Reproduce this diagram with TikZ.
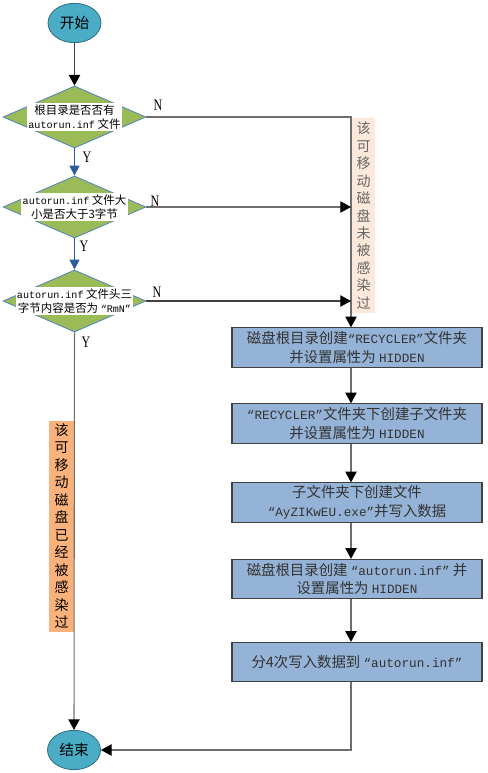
\documentclass[tikz,border=0pt]{standalone}
\usepackage{fontspec}
\usepackage{graphicx}
\setmainfont{Liberation Serif}
\newfontfamily\cjk{Noto Sans CJK SC}
\newfontfamily\mono[Scale=0.88]{Liberation Mono}
\newcommand\mt[1]{{\mono #1}}
\usetikzlibrary{shapes.geometric,arrows.meta}
\definecolor{ellfill}{HTML}{4BACC6}
\definecolor{ellline}{HTML}{2E6E80}
\definecolor{diafill}{HTML}{9BBB59}
\definecolor{dialine}{HTML}{4F81BD}
\definecolor{boxfill}{HTML}{95B3D7}
\definecolor{boxline}{HTML}{404040}
\definecolor{boxtext}{HTML}{333333}
\definecolor{peach}{HTML}{FDE9DB}
\definecolor{peachtext}{HTML}{666666}
\definecolor{orangebox}{HTML}{FAB27C}
\definecolor{glinec}{HTML}{6E6E6E}
\definecolor{blinec}{HTML}{2E5C9A}
\begin{document}
\begin{tikzpicture}[x=0.75pt,y=-0.75pt,
  term/.style={ellipse, draw=ellline, line width=0.6pt, fill=ellfill, minimum width=39.75pt, minimum height=29.5pt, inner sep=0pt, font=\cjk\fontsize{11}{13}\selectfont},
  dia/.style={diamond, draw=dialine, line width=0.6pt, fill=diafill, minimum width=107pt, minimum height=46.5pt, inner sep=0pt},
  dtext/.style={fill=white, inner sep=1pt, align=center, font=\cjk\fontsize{8.6}{10.5}\selectfont},
  proc/.style={rectangle, draw=boxline, line width=0.8pt, fill=boxfill, minimum width=187.5pt, minimum height=29.5pt, inner sep=1pt, align=center, text=boxtext, font=\cjk\fontsize{10.8}{14.2}\selectfont},
  vtext/.style={rectangle, inner sep=0pt, align=center, font=\cjk\fontsize{10.5}{13.1}\selectfont},
  lab/.style={inner sep=0pt, font=\fontsize{12}{14}\selectfont},
  tip/.style={-{Triangle[length=8pt,width=8.5pt,color=black]}},
  btip/.style={-{Triangle[length=7.5pt,width=7.5pt]}},
  gline/.style={draw=glinec, line width=0.8pt},
  kline/.style={draw=black!75, line width=0.8pt},
  bline/.style={draw=blinec, line width=1.1pt}
]
\useasboundingbox (0,0) rectangle (487,773);

% terminals
\node[term] (start) at (74.5,23) {开始};
\node[term] (end) at (74,750) {结束};

% diamonds
\node[dia] (d1) at (74.5,117) {};
\node[dtext] (t1) at (d1) {根目录是否否有\\\mt{autorun.inf} 文件};
\node[dia] (d2) at (74.5,207) {};
\node[dtext] (t2) at (d2) {\mt{autorun.inf} 文件大\\小是否大于3字节};
\node[dia] (d3) at (74.5,301) {};
\node[dtext] (t3) at (d3) {\mt{autorun.inf} 文件头三\\字节内容是否为 \mt{“RmN”}};

% side text boxes
\node[vtext, fill=peach, text=peachtext, minimum width=17.25pt, minimum height=146.25pt] (pv) at (363.5,215.5)
  {该\\可\\移\\动\\磁\\盘\\未\\被\\感\\染\\过};
\node[vtext, fill=orangebox, text=black, minimum width=18.75pt, minimum height=158.25pt] (ov) at (61.5,526)
  {该\\可\\移\\动\\磁\\盘\\已\\经\\被\\感\\染\\过};

% process boxes
\node[proc] (b1) at (357,347.5) {磁盘根目录创建\mt{“RECYCLER”}文件夹\\并设置属性为 \mt{HIDDEN}};
\node[proc] (b2) at (357,423.5) {\mt{“RECYCLER”}文件夹下创建子文件夹\\并设置属性为 \mt{HIDDEN}};
\node[proc] (b3) at (357,502.5) {子文件夹下创建文件\\\mt{“AyZIKwEU.exe”}并写入数据};
\node[proc] (b4) at (357,579) {磁盘根目录创建 \mt{“autorun.inf”} 并\\设置属性为 \mt{HIDDEN}};
\node[proc] (b5) at (357,662) {分4次写入数据到 \mt{“autorun.inf”}};

\coordinate (cx) at (351,0);

% connectors
\draw[kline,tip] (start.south) -- (d1.north);
\draw[bline,btip] (d1.south) -- (d2.north);
\draw[bline,btip] (d2.south) -- (d3.north);
\draw[gline,tip] (d3.south) -- (end.north);

\draw[gline,tip] (d1.east) -- (d1.east -| cx) -- (b1.north -| cx);
\draw[gline,tip] (d2.east) -- (d2.east -| cx);
\draw[kline,tip] (d3.east) -- (d3.east -| cx);

\draw[gline,tip] (b1.south -| cx) -- (b2.north -| cx);
\draw[gline,tip] (b2.south -| cx) -- (b3.north -| cx);
\draw[gline,tip] (b3.south -| cx) -- (b4.north -| cx);
\draw[gline,tip] (b4.south -| cx) -- (b5.north -| cx);
\draw[gline,tip] (b5.south -| cx) |- (end.east);

% labels
\node[lab] (n1) at (158,105) {\scalebox{0.75}[1]{N}};
\node[lab] (n2) at (155,201) {\scalebox{0.75}[1]{N}};
\node[lab] (n3) at (157,292) {\scalebox{0.75}[1]{N}};
\node[lab] (y1) at (87,157) {\scalebox{0.75}[1]{Y}};
\node[lab] (y2) at (84,246) {\scalebox{0.75}[1]{Y}};
\node[lab] (y3) at (86,342) {\scalebox{0.75}[1]{Y}};
\end{tikzpicture}
\end{document}
